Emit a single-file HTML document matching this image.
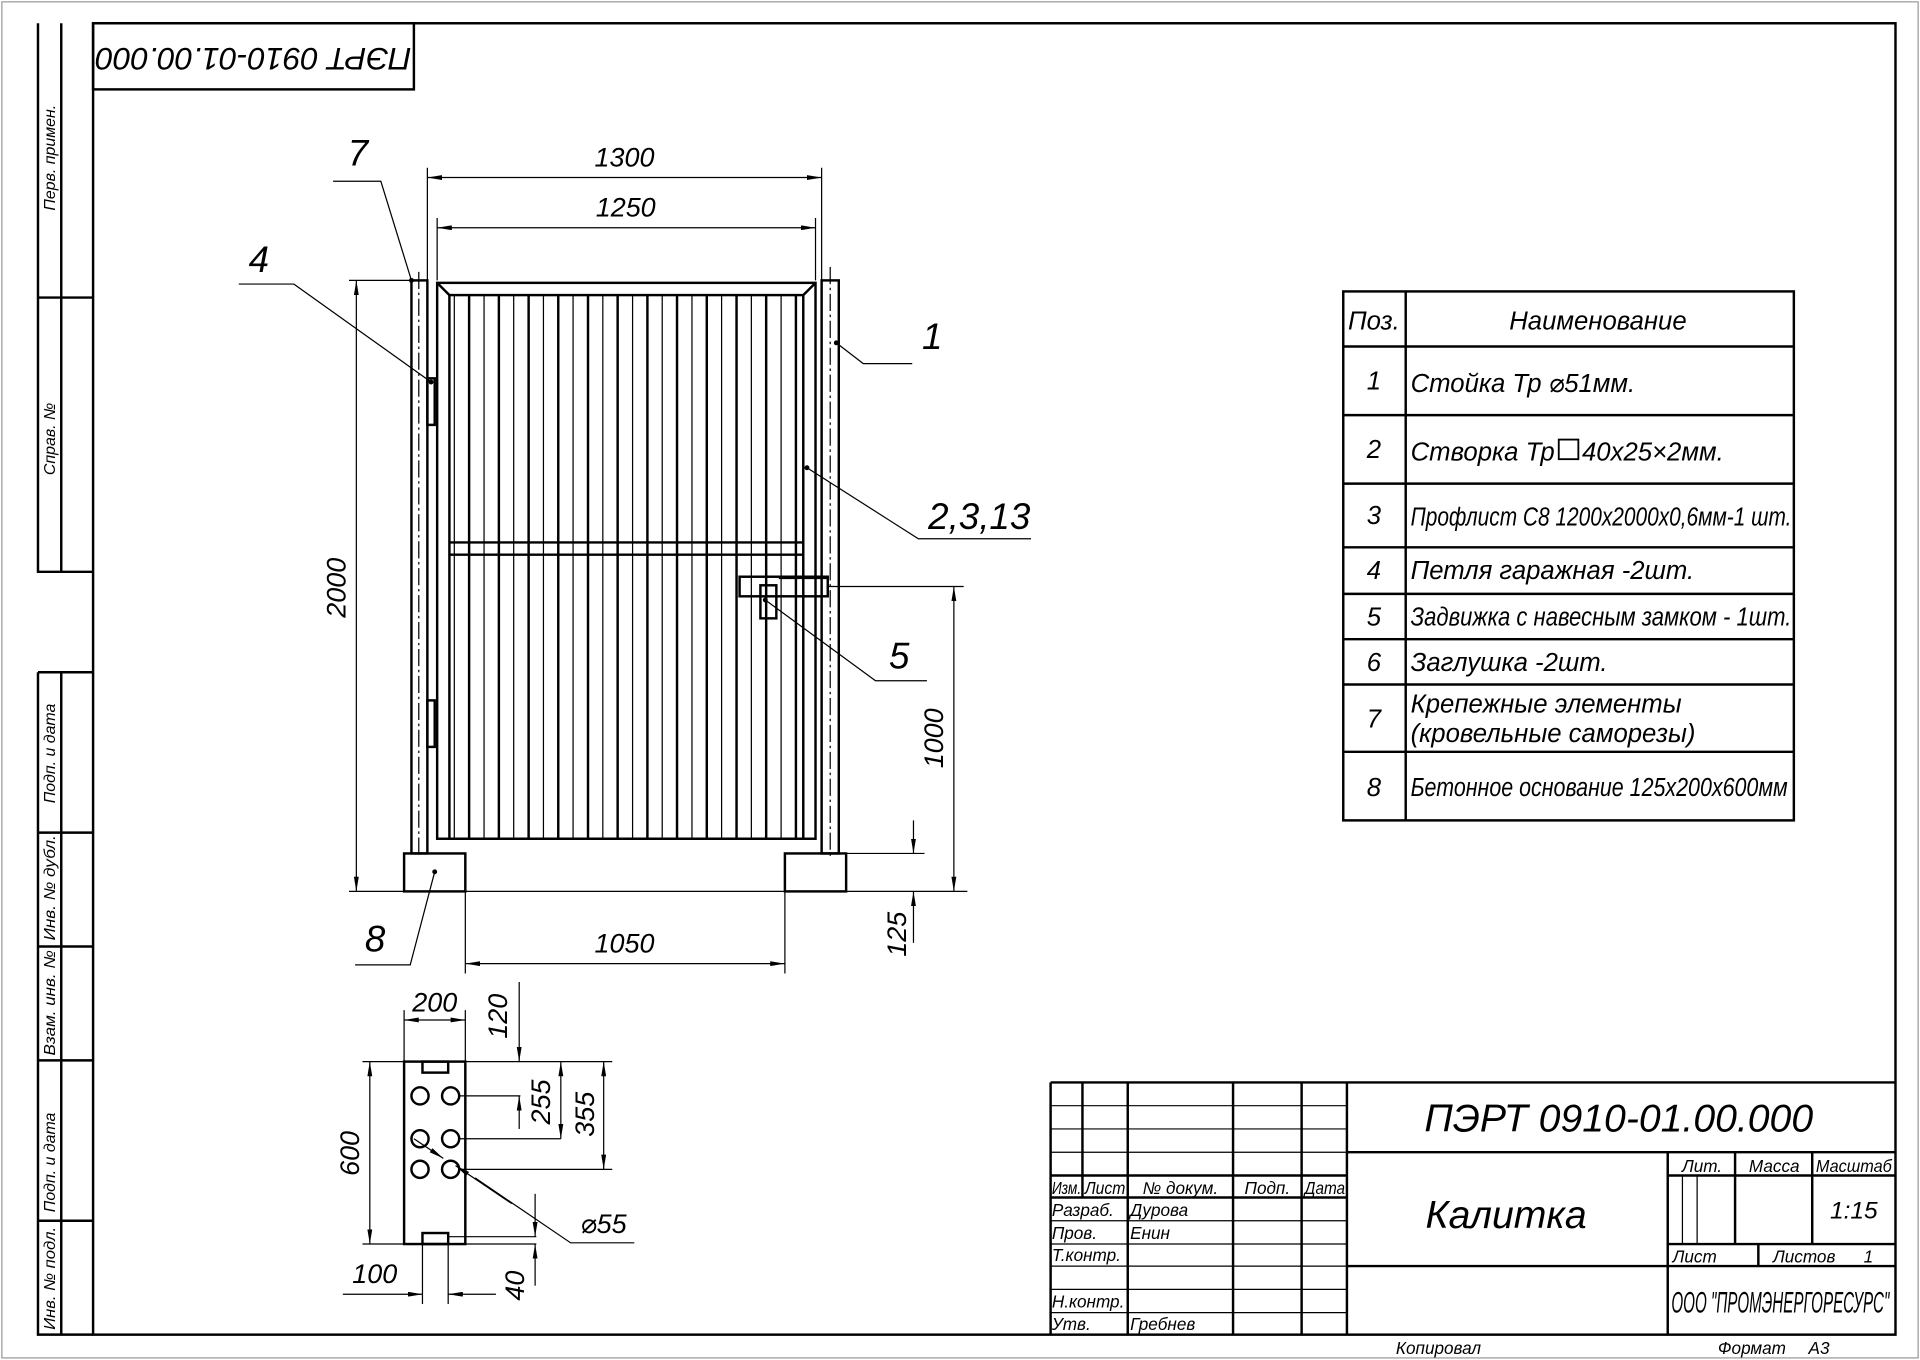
<!DOCTYPE html>
<html><head><meta charset="utf-8"><style>
html,body{margin:0;padding:0;background:#fff;}
svg{display:block;}
text{font-family:"Liberation Sans","DejaVu Sans",sans-serif;font-style:italic;fill:#000;}
</style></head><body>
<svg width="1920" height="1360" viewBox="0 0 1568 1110.7" xmlns="http://www.w3.org/2000/svg">
<defs>
<marker id="a" viewBox="0 0 12 4" refX="12" refY="2" markerWidth="12" markerHeight="4" markerUnits="userSpaceOnUse" orient="auto-start-reverse"><path d="M0,0L12,2L0,4z" fill="#000"/></marker>
</defs>
<rect x="1.5" y="1.5" width="1565" height="1107.5" fill="none" stroke="#999" stroke-width="1"/>
<g fill="none" stroke="#000">
<rect x="76" y="19" width="1472" height="1071" stroke-width="2"/>
<path d="M31,19V467H76M50,19V467M31,243H76M31,549V1090H76M50,549V1090M31,549H76M31,680H76M31,773H76M31,866H76M31,997H76" stroke-width="2"/>
<rect x="76" y="19" width="262" height="54" stroke-width="2"/>
</g>
<g font-size="13">
<text transform="translate(45,172) rotate(-90)">Перв. примен.</text>
<text transform="translate(45,388) rotate(-90)">Справ. №</text>
<text transform="translate(45,656) rotate(-90)">Подп. и дата</text>
<text transform="translate(45,768) rotate(-90)" textLength="86" lengthAdjust="spacingAndGlyphs">Инв. № дубл.</text>
<text transform="translate(45,862) rotate(-90)" textLength="86" lengthAdjust="spacingAndGlyphs">Взам. инв. №</text>
<text transform="translate(45,990) rotate(-90)">Подп. и дата</text>
<text transform="translate(45,1086) rotate(-90)" textLength="84" lengthAdjust="spacingAndGlyphs">Инв. № подл.</text>
</g>
<text transform="translate(207,46) rotate(180)" font-size="26" text-anchor="middle" dominant-baseline="middle">ПЭРТ 0910-01.00.000</text>

<g fill="none" stroke="#000" stroke-width="2">
<rect x="336" y="229" width="13" height="468"/>
<rect x="671" y="229" width="14" height="468"/>
<rect x="357" y="231" width="309" height="454"/>
<rect x="367" y="241" width="289" height="444"/>
<path d="M357,231L367,241M666,231L656,241"/>
<path d="M367,443H656M367,453H656"/>
<rect x="330" y="697" width="50" height="31"/>
<rect x="641" y="697" width="50" height="31"/>
<rect x="349" y="309" width="6" height="38"/>
<rect x="349" y="572" width="6" height="38"/>
<rect x="604" y="471" width="72" height="16"/>
<rect x="621" y="478" width="13" height="27"/>
<path d="M636,472H675"/>
</g>
<g stroke="#000" stroke-width="1" stroke-dasharray="14,3,2,3" fill="none">
<path d="M342,222V700M678,218V700"/>
</g>
<g stroke="#000">
<path d="M371,241V685M395.3,241V685M419.5,241V685M443.8,241V685M468,241V685M492.3,241V685M516.6,241V685M540.8,241V685M565.1,241V685M589.3,241V685M613.6,241V685M637.9,241V685" stroke-width="1"/>
<path d="M383.1,241V685M407.4,241V685M431.7,241V685M455.9,241V685M480.2,241V685M504.4,241V685M528.7,241V685M552.9,241V685M577.2,241V685M601.5,241V685M625.7,241V685M650,241V685" stroke-width="2"/>
</g>
<g stroke="#000" stroke-width="1" fill="none">
<path d="M349,137V229M671,137V229M357,178V229M666,178V229"/>
<path d="M349,145H671" marker-start="url(#a)" marker-end="url(#a)"/>
<path d="M357,186H666" marker-start="url(#a)" marker-end="url(#a)"/>
<path d="M285,229H336M285,728H790"/>
<path d="M291,229V728" marker-start="url(#a)" marker-end="url(#a)"/>
<path d="M676,479H787"/>
<path d="M779,479V728" marker-start="url(#a)" marker-end="url(#a)"/>
<path d="M691,697H755"/>
<path d="M746,670V697" marker-end="url(#a)"/>
<path d="M746,770V728" marker-end="url(#a)"/>
<path d="M380,728V795M641,728V795"/>
<path d="M380,787H641" marker-start="url(#a)" marker-end="url(#a)"/>
<path d="M272,148H311L336,229"/>
<path d="M195,232H240L352,312"/>
<path d="M745,297H705L683,280"/>
<path d="M842,440H750L659,382"/>
<path d="M757,556H715L625,490"/>
<path d="M290,788H335L355,712"/>
</g>
<g fill="#000"><circle cx="336" cy="229" r="2"/><circle cx="352" cy="312" r="2"/><circle cx="683" cy="280" r="2"/><circle cx="659" cy="382" r="2"/><circle cx="625" cy="490" r="2"/><circle cx="355" cy="712" r="2"/></g>
<g font-size="24">
<text x="510" y="136" text-anchor="middle" font-size="22">1300</text>
<text x="511" y="177" text-anchor="middle" font-size="22">1250</text>
<text transform="translate(282,480) rotate(-90)" text-anchor="middle" font-size="22">2000</text>
<text transform="translate(770,603) rotate(-90)" text-anchor="middle" font-size="22">1000</text>
<text transform="translate(740,763) rotate(-90)" text-anchor="middle" font-size="22">125</text>
<text x="510" y="778" text-anchor="middle" font-size="22">1050</text>
<text x="284" y="135" font-size="30">7</text>
<text x="203" y="222" font-size="30">4</text>
<text x="753" y="285" font-size="30">1</text>
<text x="758" y="432" font-size="30">2,3,13</text>
<text x="726" y="546" font-size="30">5</text>
<text x="298" y="777" font-size="30">8</text>
</g>

<g fill="none" stroke="#000" stroke-width="2">
<rect x="1097" y="238" width="368" height="432"/>
<path d="M1148,238V670M1097,283H1465M1097,339H1465M1097,395H1465M1097,447H1465M1097,485H1465M1097,522H1465M1097,559H1465M1097,614H1465"/>
<rect x="1273" y="359" width="16" height="16" stroke-width="1.5"/>
</g>
<g font-size="21">
<text x="1122" y="269" text-anchor="middle">Поз.</text>
<text x="1305" y="269" text-anchor="middle">Наименование</text>
<text x="1122" y="318" text-anchor="middle">1</text><text x="1152" y="320">Стойка Тр ⌀51мм.</text>
<text x="1122" y="374" text-anchor="middle">2</text><text x="1152" y="376">Створка Тр</text><text x="1292" y="376">40х25×2мм.</text>
<text x="1122" y="428" text-anchor="middle">3</text><text x="1152" y="429" textLength="311" lengthAdjust="spacingAndGlyphs">Профлист С8 1200х2000х0,6мм-1 шт.</text>
<text x="1122" y="473" text-anchor="middle">4</text><text x="1152" y="473">Петля гаражная -2шт.</text>
<text x="1122" y="511" text-anchor="middle">5</text><text x="1152" y="511" textLength="311" lengthAdjust="spacingAndGlyphs">Задвижка с навесным замком - 1шт.</text>
<text x="1122" y="548" text-anchor="middle">6</text><text x="1152" y="548">Заглушка  -2шт.</text>
<text x="1122" y="594" text-anchor="middle">7</text><text x="1152" y="582">Крепежные элементы</text><text x="1152" y="606">(кровельные саморезы)</text>
<text x="1122" y="650" text-anchor="middle">8</text><text x="1152" y="650" textLength="308" lengthAdjust="spacingAndGlyphs">Бетонное основание 125х200х600мм</text>
</g>

<g fill="none" stroke="#000" stroke-width="2">
<rect x="330" y="867" width="50" height="149"/>
<rect x="345" y="867" width="21" height="9"/>
<rect x="345" y="1007" width="21" height="9"/>
<circle cx="343" cy="895" r="7"/><circle cx="368" cy="895" r="7"/>
<circle cx="343" cy="930" r="7"/><circle cx="368" cy="930" r="7"/>
<circle cx="343" cy="955" r="7"/><circle cx="368" cy="955" r="7"/>
</g>
<g stroke="#000" stroke-width="1" fill="none">
<path d="M330,825V867M380,825V867"/>
<path d="M330,833H380" marker-start="url(#a)" marker-end="url(#a)"/>
<path d="M296,867H500M296,1016H438"/>
<path d="M302,867V1016" marker-start="url(#a)" marker-end="url(#a)"/>
<path d="M375,895H425M375,930H458M375,955H500M366,1010H438"/>
<path d="M424,802V867" marker-end="url(#a)"/>
<path d="M424,922V895" marker-end="url(#a)"/>
<path d="M458,867V930" marker-start="url(#a)" marker-end="url(#a)"/>
<path d="M493,867V955" marker-start="url(#a)" marker-end="url(#a)"/>
<path d="M437,975V1010" marker-end="url(#a)"/>
<path d="M437,1050V1016" marker-end="url(#a)"/>
<path d="M345,1016V1065M366,1016V1065"/>
<path d="M280,1057H345" marker-end="url(#a)"/>
<path d="M405,1057H366" marker-end="url(#a)"/>
<path d="M518,1015H466L388,962"/>
<path d="M418,983L372,952" marker-end="url(#a)"/>
<path d="M338,930L362,946" marker-end="url(#a)"/>
</g>
<g font-size="22">
<text x="355" y="826" text-anchor="middle">200</text>
<text transform="translate(414,830) rotate(-90)" text-anchor="middle">120</text>
<text transform="translate(449,900) rotate(-90)" text-anchor="middle">255</text>
<text transform="translate(485,910) rotate(-90)" text-anchor="middle">355</text>
<text transform="translate(293,942) rotate(-90)" text-anchor="middle">600</text>
<text x="474" y="1007">⌀55</text>
<text x="306" y="1048" text-anchor="middle">100</text>
<text transform="translate(428,1050) rotate(-90)" text-anchor="middle">40</text>
</g>

<g fill="none" stroke="#000" stroke-width="1">
<path d="M858,903H1100M858,922H1100M858,941H1100M858,997H1100M858,1016H1100M858,1034H1100M858,1053H1100M858,1072H1100"/>
<path d="M1374,960V1016M1386,960V1016"/>
</g>
<g fill="none" stroke="#000" stroke-width="2">
<path d="M858,884H1548M858,884V1090M884,884V978M921,884V1090M1007,884V1090M1063,884V1090M1100,884V1090"/>
<path d="M858,960H1100M858,978H1100M1100,941H1548M1100,1034H1548M1362,941V1090M1362,960H1548M1362,1016H1548M1362,1034H1548M1417,941V1016M1480,941V1016M1436,1016V1034"/>
</g>
<g font-size="14">
<text x="859" y="975" textLength="24" lengthAdjust="spacingAndGlyphs">Изм.</text><text x="886" y="975" textLength="33" lengthAdjust="spacingAndGlyphs">Лист</text><text x="964" y="975" text-anchor="middle">№ докум.</text><text x="1035" y="975" text-anchor="middle">Подп.</text><text x="1082" y="975" text-anchor="middle" textLength="33" lengthAdjust="spacingAndGlyphs">Дата</text>
<text x="859" y="993">Разраб.</text><text x="923" y="993">Дурова</text>
<text x="859" y="1012">Пров.</text><text x="923" y="1012">Енин</text>
<text x="859" y="1030">Т.контр.</text>
<text x="859" y="1068">Н.контр.</text>
<text x="859" y="1086">Утв.</text><text x="923" y="1086">Гребнев</text>
<text x="1390" y="957" text-anchor="middle">Лит.</text><text x="1449" y="957" text-anchor="middle">Масса</text><text x="1514" y="957" text-anchor="middle" textLength="62" lengthAdjust="spacingAndGlyphs">Масштаб</text>
<text x="1366" y="1031">Лист</text><text x="1448" y="1031">Листов</text><text x="1522" y="1031">1</text>
<text x="1140" y="1106">Копировал</text><text x="1403" y="1106">Формат</text><text x="1477" y="1106">А3</text>
</g>
<text x="1514" y="995" font-size="20" text-anchor="middle">1:15</text>
<text x="1322" y="924" font-size="32" text-anchor="middle">ПЭРТ 0910-01.00.000</text>
<text x="1230" y="1003" font-size="32" text-anchor="middle">Калитка</text>
<text x="1454" y="1072" font-size="24" text-anchor="middle" textLength="178" lengthAdjust="spacingAndGlyphs">ООО "ПРОМЭНЕРГОРЕСУРС"</text>
</svg>
</body></html>
